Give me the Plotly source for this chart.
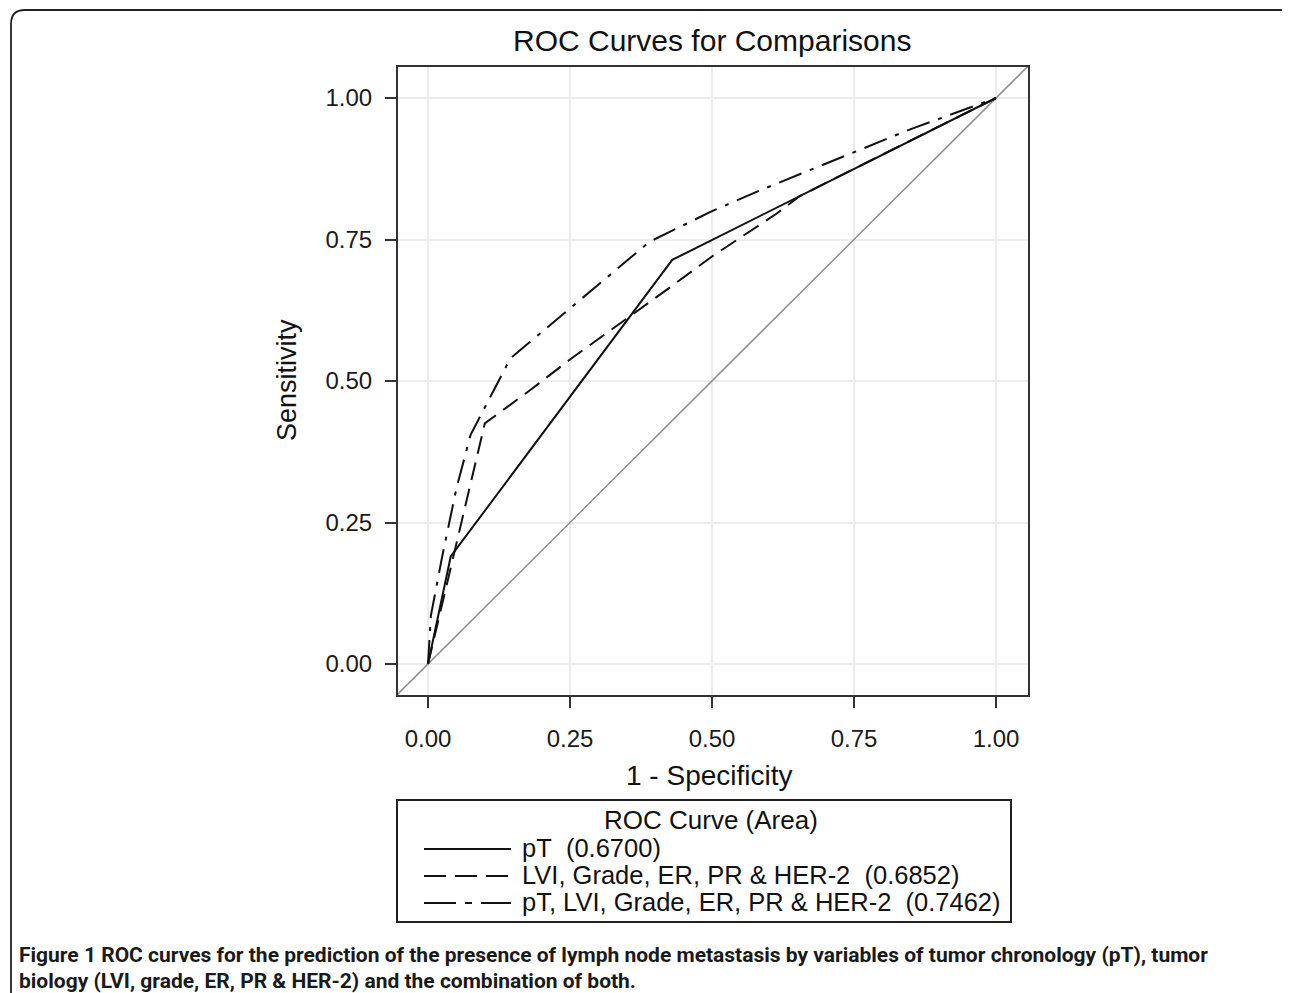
import plotly.graph_objects as go

# ---------------- data ----------------
series_names = ["pT", "LVI, Grade, ER, PR & HER-2", "pT, LVI, Grade, ER, PR & HER-2"]
series_auc = ["0.6700", "0.6852", "0.7462"]

pt_fpr = [0.0, 0.04, 0.43, 1.0]
pt_tpr = [0.0, 0.19, 0.714, 1.0]

bio_fpr = [0.0, 0.05, 0.10, 0.18, 0.25, 0.42, 0.50, 0.614, 0.655, 0.75, 1.0]
bio_tpr = [0.0, 0.215, 0.425, 0.484, 0.538, 0.661, 0.72, 0.796, 0.827, 0.875, 1.0]

comb_fpr = [0.0, 0.005, 0.025, 0.05, 0.075, 0.145, 0.39, 0.50, 0.585, 0.75, 0.85, 1.0]
comb_tpr = [0.0, 0.085, 0.19, 0.31, 0.405, 0.54, 0.746, 0.80, 0.837, 0.905, 0.945, 1.0]

diag = [-0.06, 1.06]

tick_vals = [0.0, 0.25, 0.5, 0.75, 1.0]
tick_text = ["0.00", "0.25", "0.50", "0.75", "1.00"]

title_text = "ROC Curves for Comparisons"
x_title = "1 - Specificity"
y_title = "Sensitivity"
legend_title = "ROC Curve (Area)"
caption1 = "<b>Figure 1</b> <b>ROC curves for the prediction of the presence of lymph node metastasis by variables of tumor chronology (pT), tumor</b>"
caption2 = "<b>biology (LVI, grade, ER, PR &amp; HER-2) and the combination of both.</b>"

# ---------------- layout helpers ----------------
# The page body has an 8px margin, so the figure is made 8px smaller and
# all reference pixel positions are measured in page coordinates.
OFF = 8
W, H = 1290 - OFF, 993 - OFF
L, R, T, B = 398, 1028, 67, 695   # plot area in page pixels
PW, PH = R - L, B - T

def px(x):
    return (x - L) / PW

def py(y):
    return (B - y) / PH

FONT = "Arial, 'Liberation Sans', sans-serif"
dashes = ["solid", "18px,9px", "24px,9px,4px,9px"]
legend_dashes = ["solid", "22px,9px", "32px,9px,7px,9px"]

fig = go.Figure()
fig.add_trace(go.Scatter(x=diag, y=diag, mode="lines",
                         line=dict(color="#8f8f8f", width=1.5), showlegend=False, hoverinfo="skip"))
for xs, ys, d, n in [(pt_fpr, pt_tpr, dashes[0], series_names[0]),
                     (bio_fpr, bio_tpr, dashes[1], series_names[1]),
                     (comb_fpr, comb_tpr, dashes[2], series_names[2])]:
    fig.add_trace(go.Scatter(x=xs, y=ys, mode="lines", name=n,
                             line=dict(color="#111111", width=2, dash=d), showlegend=False))

axis_common = dict(
    tickvals=tick_vals, ticktext=tick_text,
    showgrid=True, gridcolor="#ececec", gridwidth=2,
    zeroline=False, showline=True, linecolor="#333333", linewidth=2, mirror=True,
    ticks="outside", ticklen=11, tickwidth=2, tickcolor="#333333",
    tickfont=dict(family=FONT, size=24, color="#1a1a1a"),
)

fig.update_layout(
    width=W, height=H,
    margin=dict(l=L - OFF, r=W - (R - OFF), t=T - OFF, b=H - (B - OFF), pad=0),
    paper_bgcolor="white", plot_bgcolor="white",
    xaxis=dict(range=[-30 / 568, 600 / 568], **axis_common),
    yaxis=dict(range=[-31 / 566, 597 / 566], **axis_common),
    showlegend=False,
)
fig.update_xaxes(ticklabelstandoff=10)
fig.update_yaxes(ticklabelstandoff=8)

ann = []
ann.append(dict(text=title_text, x=px(712), y=py(40), xref="paper", yref="paper",
                showarrow=False, xanchor="center", yanchor="middle",
                font=dict(family=FONT, size=30, color="#111111")))
ann.append(dict(text=x_title, x=px(709), y=py(775), xref="paper", yref="paper",
                showarrow=False, xanchor="center", yanchor="middle",
                font=dict(family=FONT, size=28, color="#111111")))
ann.append(dict(text=y_title, x=px(287), y=py(380), xref="paper", yref="paper",
                showarrow=False, xanchor="center", yanchor="middle", textangle=-90,
                font=dict(family=FONT, size=27, color="#111111")))

# legend (drawn manually to match sample length)
shapes = []
shapes.append(dict(type="rect", xref="paper", yref="paper",
                   x0=px(397), x1=px(1011), y0=py(800), y1=py(922),
                   line=dict(color="#222222", width=2), fillcolor="rgba(0,0,0,0)"))
ann.append(dict(text=legend_title, x=px(711), y=py(820), xref="paper", yref="paper",
                showarrow=False, xanchor="center", yanchor="middle",
                font=dict(family=FONT, size=26, color="#111111")))
row_y = [849, 876, 903]
for i in range(3):
    shapes.append(dict(type="line", xref="paper", yref="paper",
                       x0=px(424), x1=px(511), y0=py(row_y[i]), y1=py(row_y[i]),
                       line=dict(color="#111111", width=2, dash=legend_dashes[i])))
    ann.append(dict(text=series_names[i].replace("&", "&amp;") + "\u00a0 (" + series_auc[i] + ")",
                    x=px(520), y=py(row_y[i] - 1), xref="paper", yref="paper",
                    showarrow=False, xanchor="left", yanchor="middle",
                    font=dict(family=FONT, size=25.5, color="#111111")))

# caption
CAP_FONT = "Roboto, sans-serif"
ann.append(dict(text=caption1, x=px(17), y=py(955), xref="paper", yref="paper",
                showarrow=False, xanchor="left", yanchor="middle",
                font=dict(family=CAP_FONT, size=21, color="#1a1a1a")))
ann.append(dict(text=caption2, x=px(17), y=py(981), xref="paper", yref="paper",
                showarrow=False, xanchor="left", yanchor="middle",
                font=dict(family=CAP_FONT, size=21, color="#1a1a1a")))

# outer page frame (left side and top with rounded corner)
frame_path = "M {} {} L {} {} Q {} {} {} {} L {} {} Q {} {} {} {}".format(
    px(11), py(1000), px(11), py(24),
    px(11), py(10), px(25), py(10),
    px(1280), py(10),
    px(1287), py(10), px(1288), py(14))
shapes.append(dict(type="path", xref="paper", yref="paper", path=frame_path,
                   line=dict(color="#222222", width=1.8)))

fig.update_layout(annotations=ann, shapes=shapes)
fig.write_html("out.html")
